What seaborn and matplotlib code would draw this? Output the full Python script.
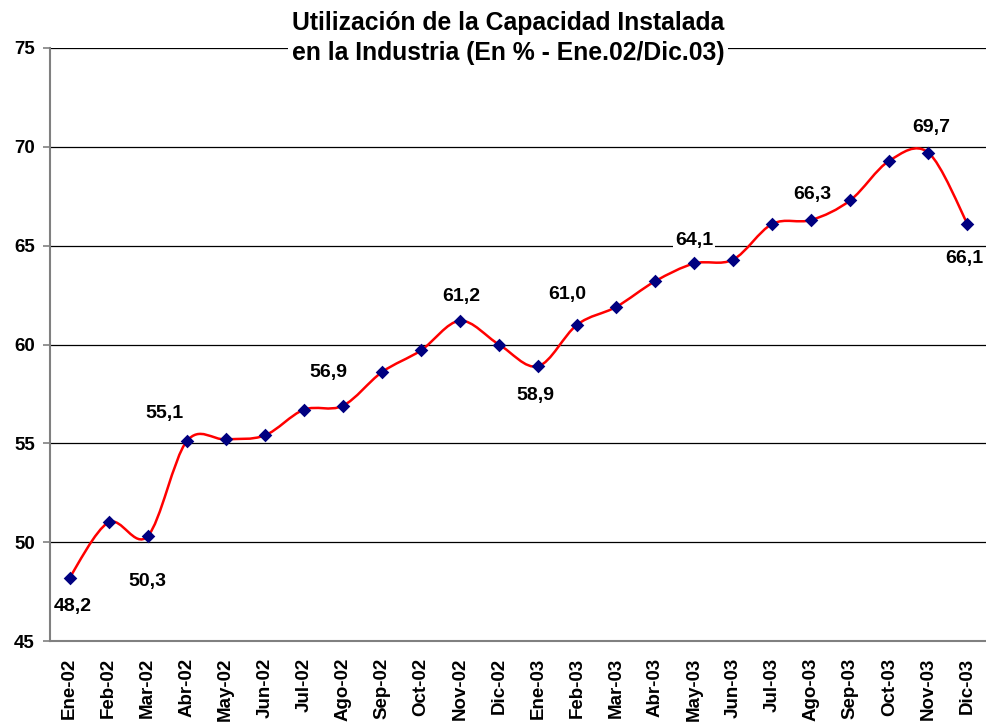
import numpy as np
import pandas as pd
import seaborn as sns
import matplotlib.pyplot as plt
from matplotlib.path import Path
from matplotlib.patches import PathPatch

months = ["Ene-02", "Feb-02", "Mar-02", "Abr-02", "May-02", "Jun-02",
          "Jul-02", "Ago-02", "Sep-02", "Oct-02", "Nov-02", "Dic-02",
          "Ene-03", "Feb-03", "Mar-03", "Abr-03", "May-03", "Jun-03",
          "Jul-03", "Ago-03", "Sep-03", "Oct-03", "Nov-03", "Dic-03"]
utilization = [48.2, 51.0, 50.3, 55.1, 55.2, 55.4, 56.7, 56.9, 58.6, 59.7, 61.2, 60.0,
               58.9, 61.0, 61.9, 63.2, 64.1, 64.3, 66.1, 66.3, 67.3, 69.3, 69.7, 66.1]
labelled_months = ["Ene-02", "Mar-02", "Abr-02", "Ago-02", "Nov-02", "Ene-03",
                   "Feb-03", "May-03", "Ago-03", "Nov-03", "Dic-03"]
y_ticks = [45, 50, 55, 60, 65, 70, 75]

title = "Utilización de la Capacidad Instalada\nen la Industria (En % - Ene.02/Dic.03)"

# label placement relative to the marker, in pixels (dx right, dy down)
label_offsets = {
    "Ene-02": (3, 29), "Mar-02": (0, 45), "Abr-02": (-22, -28),
    "Ago-02": (-14, -33), "Nov-02": (1, -24), "Ene-03": (-3, 29),
    "Feb-03": (-10, -30), "May-03": (0, -23), "Ago-03": (1, -25),
    "Nov-03": (3, -25), "Dic-03": (-3, 35),
}

df = pd.DataFrame({"month": months, "value": utilization})
df["pos"] = np.arange(len(df))

sns.set_style("white")
plt.rcParams["font.family"] = ["Liberation Sans", "DejaVu Sans"]
plt.rcParams["font.weight"] = "bold"
plt.rcParams["text.color"] = "black"
plt.rcParams["xtick.labelcolor"] = "black"
plt.rcParams["ytick.labelcolor"] = "black"


def smooth_path(xs, ys):
    # Excel-style smoothed line: Catmull-Rom through the data points as Bezier segments
    pts = np.column_stack([xs, ys]).astype(float)
    n = len(pts)
    verts = [pts[0]]
    codes = [Path.MOVETO]
    for i in range(n - 1):
        p0 = pts[max(i - 1, 0)]
        p1 = pts[i]
        p2 = pts[i + 1]
        p3 = pts[min(i + 2, n - 1)]
        verts += [p1 + (p2 - p0) / 6, p2 - (p3 - p1) / 6, p2]
        codes += [Path.CURVE4] * 3
    return Path(verts, codes)


fig = plt.figure(figsize=(9.87, 7.26), dpi=100)
ax = fig.add_axes([50 / 987, 1 - 641 / 726, 1 - 50 / 987, (641 - 48) / 726])

ax.add_patch(PathPatch(smooth_path(df["pos"], df["value"]), fill=False,
                       edgecolor="red", lw=1.8, zorder=3))
sns.scatterplot(data=df, x="pos", y="value", marker="D", color="#000080",
                s=48, linewidth=0, ax=ax, zorder=4)

ax.set_xlim(-0.5, len(months) - 0.5)
ax.set_ylim(45, 75)
ax.set_yticks(y_ticks)
ax.set_yticklabels([str(t) for t in y_ticks], fontsize=13.5, fontweight="bold", color="black")
ax.set_xticks(df["pos"])
ax.set_xticklabels(months, rotation=90, fontsize=13.5, fontweight="bold", color="black")
ax.set_xticks(np.arange(-0.5, len(months), 1), minor=True)
ax.tick_params(axis="x", which="major", length=0, pad=12)
ax.tick_params(axis="x", which="minor", length=5, width=1.2, color="#808080", direction="out")
ax.tick_params(axis="y", length=5, width=1.2, color="#808080", direction="out", pad=6, left=True)
ax.set_xlabel("")
ax.set_ylabel("")

for t in y_ticks[1:]:
    ax.axhline(t, color="black", lw=0.9, zorder=1)

for side in ["top", "right"]:
    ax.spines[side].set_visible(False)
for side in ["left", "bottom"]:
    ax.spines[side].set_color("#808080")
    ax.spines[side].set_linewidth(1.5)

for _, row in df[df["month"].isin(labelled_months)].iterrows():
    dx, dy = label_offsets[row["month"]]
    ax.annotate(f"{row['value']:.1f}".replace(".", ","), (row["pos"], row["value"]),
                xytext=(dx * 0.72, -dy * 0.72), textcoords="offset points",
                ha="center", va="center", fontsize=14, fontweight="bold", color="black",
                bbox=dict(boxstyle="square,pad=0.1", fc="white", ec="none"), zorder=5)

fig.text(508 / 987, 1 - 38 / 726, title, ha="center", va="center", fontsize=17.8,
         fontweight="bold", linespacing=1.3, color="black",
         bbox=dict(boxstyle="square,pad=0.15", fc="white", ec="none"), zorder=10)

fig.savefig("out.png", dpi=100)
